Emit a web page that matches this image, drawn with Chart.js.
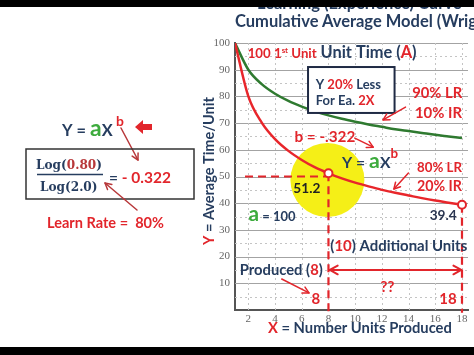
<!DOCTYPE html>
<html><head><meta charset="utf-8">
<script src="https://cdn.jsdelivr.net/npm/chart.js@4/dist/chart.umd.min.js"></script>
<style>
html,body{margin:0;padding:0;width:474px;height:355px;overflow:hidden;background:#fff;}
#wrap{position:relative;width:474px;height:355px;overflow:hidden;background:#fff;}
#c{position:absolute;left:0;top:0;}
.t{position:absolute;white-space:nowrap;font-family:Lato,sans-serif;font-weight:bold;color:#263d5f;line-height:1;}
.bar{position:absolute;left:0;width:474px;background:#000;z-index:5;}
</style></head>
<body><div id="wrap">
<canvas id="c" width="474" height="355"></canvas>
<div class="t" style="left:257px;top:-5px;font-size:16.5px;">Learning (Experience) Curve</div>
<div class="t" style="left:235px;top:13px;font-size:16.5px;">Cumulative Average Model (Wright)</div>
<div class="bar" style="top:0;height:7px"></div>
<div class="bar" style="top:347px;height:8px"></div>
</div>
<script>
// ---- data ----
const units = [1,2,3,4,5,6,7,8,9,10,11,12,13,14,15,16,17,18];
const avgTime80 = [100,80,70.2,64,59.6,56.2,53.4,51.2,49.3,47.7,46.3,45.0,43.9,42.9,41.9,41.0,40.2,39.4];
const avgTime90 = [100,90,84.6,81,78.3,76.2,74.4,72.9,71.6,70.5,69.5,68.6,67.7,67.0,66.3,65.6,65.0,64.4];
const markUnits = [8,18];
const markTimes = [51.2,39.4];
const xTickLabels = ['2','4','6','8','10','12','14','16','18'];
const yTickLabels = ['10','20','30','40','50','60','70','80','90','100'];

// ---- styles ----
const NAVY = '#263d5f', RED = '#e2252b', DRED = '#b8383a', GTXT = '#3dab3d';
const GLINE = '#2f7a30', RLINE = '#e8262b';
const FAM = 'Lato';

function drawRich(ctx, x, cy, w, parts, opt) {
  opt = opt || {};
  const fam = opt.fam || FAM;
  let tot = 0; const ws = [];
  parts.forEach(p => { ctx.font = 'bold ' + (100*(p.s||1)) + 'px "' + fam + '"'; const mw = ctx.measureText(p.t).width; ws.push(mw); tot += mw; });
  const k = opt.size ? opt.size / 100 : w / tot, size = 100 * k;
  const tw = tot * k;
  let cx = opt.align === 'center' ? x - tw/2 : x;
  const base = cy + 0.36 * size;
  ctx.textBaseline = 'alphabetic'; ctx.textAlign = 'left';
  parts.forEach((p, i) => {
    ctx.font = 'bold ' + (size*(p.s||1)) + 'px "' + fam + '"';
    ctx.fillStyle = p.c;
    ctx.fillText(p.t, cx, base + (p.dy||0)*size);
    cx += ws[i]*k;
  });
  return size;
}
function arrow(ctx, x1, y1, x2, y2, color, lw, head, both) {
  ctx.save();
  ctx.strokeStyle = color; ctx.lineWidth = lw; ctx.lineCap = 'round'; ctx.lineJoin = 'round';
  ctx.beginPath(); ctx.moveTo(x1, y1); ctx.lineTo(x2, y2); ctx.stroke();
  const hd = (xa, ya, xb, yb) => {
    const a = Math.atan2(yb - ya, xb - xa);
    ctx.beginPath();
    ctx.moveTo(xb - head*Math.cos(a - 0.5), yb - head*Math.sin(a - 0.5));
    ctx.lineTo(xb, yb);
    ctx.lineTo(xb - head*Math.cos(a + 0.5), yb - head*Math.sin(a + 0.5));
    ctx.stroke();
  };
  hd(x1, y1, x2, y2); if (both) hd(x2, y2, x1, y1);
  ctx.restore();
}

// annotations anchored in data coordinates (x units, y time); w = text width in px, size = font px
const notes = [
  {x:1.95, y:96.3, w:69, parts:[{t:'100 1',c:RED},{t:'st',c:RED,s:0.6,dy:-0.38},{t:' Unit',c:RED}]},
  {x:7.41, y:96.6, w:96, parts:[{t:'Unit Time (',c:NAVY},{t:'A',c:RED},{t:')',c:NAVY}]},
  {x:7.05, y:84.5, size:13, parts:[{t:'Y ',c:NAVY},{t:'20%',c:RED},{t:' Less',c:NAVY}]},
  {x:7.05, y:78.6, size:13, parts:[{t:'For Ea. ',c:NAVY},{t:'2X',c:RED}]},
  {x:14.27, y:81.3, w:50, parts:[{t:'90% LR',c:RED}]},
  {x:14.48, y:73.8, w:47, parts:[{t:'10% IR',c:RED}]},
  {x:5.45, y:64.8, w:61, parts:[{t:'b = -.322',c:RED}]},
  {x:9.02, y:55.4, w:56, parts:[{t:'Y = ',c:NAVY},{t:'a',c:GTXT,s:1.35},{t:'X',c:NAVY},{t:'b',c:RED,s:0.85,dy:-0.62}]},
  {x:14.63, y:53.6, w:45, parts:[{t:'80% LR',c:RED}]},
  {x:14.63, y:46.4, w:45, parts:[{t:'20% IR',c:RED}]},
  {x:5.37, y:45.7, w:27, parts:[{t:'51.2',c:'#222'}]},
  {x:15.58, y:35.6, w:27, parts:[{t:'39.4',c:'#2a3550'}]},
  {x:2.02, y:35.2, w:47, parts:[{t:'a',c:GTXT,s:1.6},{t:' = 100',c:NAVY}]},
  {x:8.14, y:24.0, w:137, parts:[{t:'(',c:NAVY},{t:'10',c:RED},{t:') Additional Units',c:NAVY}]},
  {x:1.36, y:15.0, w:83, parts:[{t:'Produced (',c:NAVY},{t:'8',c:RED},{t:')',c:NAVY}]},
  {x:6.72, y:4.1, size:15, parts:[{t:'8',c:RED}]},
  {x:11.9, y:8.6, size:15, parts:[{t:'??',c:RED}]},
  {x:16.3, y:4.1, size:15, parts:[{t:'18',c:RED}]}
];
const arrowsData = [
  {x1:13.77, y1:76.0, x2:12.09, y2:71.2},
  {x1:9.97, y1:64.4, x2:11.35, y2:61.0},
  {x1:13.99, y1:51.3, x2:12.9, y2:45.3},
  {x1:4.5, y1:11.6, x2:6.54, y2:6.4}
];

const deco = {
  id: 'deco',
  beforeDatasetsDraw(chart) {
    const {ctx, chartArea: a, scales: {x: xs, y: ys}} = chart;
    ctx.save();
    ctx.beginPath(); ctx.rect(a.left, a.top - 1, a.right - a.left, a.bottom - a.top + 1); ctx.clip();
    // grid
    yTickLabels.forEach(l => {
      const v = Number(l);
      const py = Math.round(ys.getPixelForValue(v)) + 0.5;
      ctx.setLineDash([]); ctx.strokeStyle = '#a3a3a3'; ctx.lineWidth = 1;
      ctx.beginPath(); ctx.moveTo(a.left, py); ctx.lineTo(a.right, py); ctx.stroke();
      const pm = Math.round(ys.getPixelForValue(v - 5)) + 0.5;
      ctx.setLineDash([2, 3]); ctx.strokeStyle = '#c4c4c4';
      ctx.beginPath(); ctx.moveTo(a.left, pm); ctx.lineTo(a.right, pm); ctx.stroke();
    });
    xTickLabels.forEach(l => {
      const px = Math.round(xs.getPixelForValue(Number(l))) + 0.5;
      ctx.setLineDash([2, 3]); ctx.strokeStyle = '#c4c4c4'; ctx.lineWidth = 1;
      ctx.beginPath(); ctx.moveTo(px, a.top); ctx.lineTo(px, a.bottom); ctx.stroke();
    });
    ctx.setLineDash([]);
    // yellow highlight
    ctx.fillStyle = '#f5ef17';
    ctx.beginPath(); ctx.arc(xs.getPixelForValue(7.92), ys.getPixelForValue(48.7), 37, 0, Math.PI*2); ctx.fill();
    ctx.restore();
    // dashed guide lines
    ctx.save();
    ctx.strokeStyle = RED; ctx.lineWidth = 2.2; ctx.setLineDash([8, 5]);
    ctx.beginPath();
    ctx.moveTo(xs.getPixelForValue(1.75), ys.getPixelForValue(50)); ctx.lineTo(xs.getPixelForValue(markUnits[0]), ys.getPixelForValue(50));
    ctx.stroke();
    markUnits.forEach((u, i) => {
      ctx.beginPath();
      ctx.moveTo(xs.getPixelForValue(u), ys.getPixelForValue(markTimes[i]));
      ctx.lineTo(xs.getPixelForValue(u), ys.getPixelForValue(-1));
      ctx.stroke();
    });
    ctx.restore();
  },
  afterDatasetsDraw(chart) {
    const {ctx, scales: {x: xs, y: ys}} = chart;
    const P = (xv, yv) => [xs.getPixelForValue(xv), ys.getPixelForValue(yv)];
    ctx.save();
    // box
    const [bx1, by1] = P(6.47, 91.0), [bx2, by2] = P(12.95, 73.8);
    ctx.fillStyle = '#fff'; ctx.fillRect(bx1, by1, bx2 - bx1, by2 - by1);
    ctx.strokeStyle = '#1f2a44'; ctx.lineWidth = 2; ctx.strokeRect(bx1, by1, bx2 - bx1, by2 - by1);
    notes.forEach(n => { const [px, py] = P(n.x, n.y); drawRich(ctx, px, py, n.w, n.parts, {size: n.size}); });
    arrowsData.forEach(d => { const [x1, y1] = P(d.x1, d.y1), [x2, y2] = P(d.x2, d.y2); arrow(ctx, x1, y1, x2, y2, RED, 1.5, 7, false); });
    // double arrow for additional units
    const [ax1, ay] = P(8.1, 15.0), [ax2] = P(17.95, 15.0);
    arrow(ctx, ax1, ay, ax2, ay, RED, 2, 9, true);
    ctx.restore();
  },
  afterDraw(chart) {
    const ctx = chart.ctx;
    ctx.save();
    // axis titles
    ctx.save(); ctx.translate(209, 171); ctx.rotate(-Math.PI/2);
    drawRich(ctx, 0, 0, 148, [{t:'Y',c:RED},{t:' = Average Time/Unit',c:NAVY}], {align:'center'});
    ctx.restore();
    drawRich(ctx, 268, 328, 184, [{t:'X',c:RED},{t:' = Number Units Produced',c:NAVY}]);
    // left panel
    drawRich(ctx, 62, 130, 62, [{t:'Y = ',c:NAVY},{t:'a',c:GTXT,s:1.4},{t:'X',c:NAVY},{t:' b',c:RED,s:0.85,dy:-0.62}]);
    ctx.fillStyle = RED;
    ctx.beginPath();
    ctx.moveTo(135,127); ctx.lineTo(143,120); ctx.lineTo(143,124); ctx.lineTo(152,124);
    ctx.lineTo(152,130); ctx.lineTo(143,130); ctx.lineTo(143,134); ctx.closePath(); ctx.fill();
    arrow(ctx, 121, 128, 138, 160, DRED, 1.5, 7, false);
    ctx.strokeStyle = '#333'; ctx.lineWidth = 1.5; ctx.strokeRect(26, 149, 168, 50);
    const fs = drawRich(ctx, 36, 165, 66, [{t:'Log(',c:NAVY},{t:'0.80',c:DRED},{t:')',c:NAVY}], {fam:'DejaVu Serif'});
    ctx.strokeStyle = NAVY; ctx.lineWidth = 1.5;
    ctx.beginPath(); ctx.moveTo(37, 174.5); ctx.lineTo(103, 174.5); ctx.stroke();
    drawRich(ctx, 40, 187, 0, [{t:'Log(2.0)',c:NAVY}], {fam:'DejaVu Serif', size: fs});
    drawRich(ctx, 109, 177, 62, [{t:'= ',c:NAVY},{t:'- 0.322',c:RED}]);
    arrow(ctx, 137, 210, 105, 183, DRED, 1.5, 7, false);
    drawRich(ctx, 47, 223, 117, [{t:'Learn Rate =  80%',c:RED}]);
    ctx.restore();
  }
};

new Chart(document.getElementById('c'), {
  type: 'scatter',
  data: {
    datasets: [
      {data: markUnits.map((u, i) => ({x: u, y: markTimes[i]})), showLine: false, pointRadius: 4, pointHoverRadius: 4,
       pointBackgroundColor: '#fff', pointBorderColor: RED, pointBorderWidth: 2, clip: false},
      {data: units.map((u, i) => ({x: u, y: avgTime80[i]})), showLine: true, borderColor: RLINE, borderWidth: 2.5,
       pointRadius: 0, cubicInterpolationMode: 'monotone'},
      {data: units.map((u, i) => ({x: u, y: avgTime90[i]})), showLine: true, borderColor: GLINE, borderWidth: 2.5,
       pointRadius: 0, cubicInterpolationMode: 'monotone'}
    ]
  },
  options: {
    responsive: false, animation: false, devicePixelRatio: 1,
    layout: {padding: {left: 195, top: 43, right: 0, bottom: 23}},
    plugins: {legend: {display: false}, tooltip: {enabled: false}},
    events: [],
    scales: {
      x: {type: 'linear', min: 1, max: 18.45,
          afterFit: s => { s.height = 22; },
          afterBuildTicks: s => { s.ticks = xTickLabels.map(l => ({value: Number(l)})); },
          ticks: {callback: (v, i) => xTickLabels[i], font: {family: 'Liberation Serif', size: 11}, color: '#666',
                  padding: 3, maxRotation: 0, autoSkip: false},
          grid: {display: false, drawTicks: false},
          border: {display: true, color: '#555', width: 2}},
      y: {min: 0, max: 100,
          afterFit: s => { s.width = 40; },
          afterBuildTicks: s => { s.ticks = yTickLabels.map(l => ({value: Number(l)})); },
          ticks: {callback: (v, i) => yTickLabels[i], font: {family: 'Liberation Serif', size: 11}, color: '#666',
                  padding: 5, autoSkip: false},
          grid: {display: false, drawTicks: false},
          border: {display: true, color: '#555', width: 2}}
    }
  },
  plugins: [deco]
});
</script>
</body></html>
